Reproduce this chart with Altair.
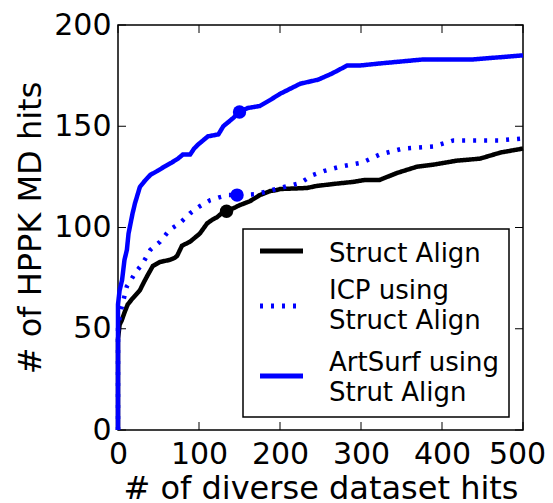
import altair as alt
import pandas as pd

# ---- data ----
series_names = ["Struct Align", "ICP using|Struct Align", "ArtSurf using|Strut Align"]

struct_x = [0, 0, 2, 4.5, 8, 12, 18, 27, 32, 36, 43, 52, 64, 70, 73, 79, 89, 95, 101, 110, 117, 122, 128, 134,
            145, 150, 163, 175, 188, 196, 200, 233, 245, 266, 290, 305, 323, 345, 369, 389, 418, 447, 472, 500]
struct_y = [0, 45, 52, 54, 58, 62, 65, 69, 73, 76, 81, 83, 84, 85, 86, 91, 93, 95, 97, 102, 104, 105, 107, 108,
            110, 111, 113, 116, 118, 118.5, 119, 119.5, 120.5, 121.5, 122.5, 123.5, 123.5, 127, 130, 131, 133, 134, 137, 139]

icp_x = [0, 0, 3, 6, 11, 16, 21, 30, 40, 52, 64, 76, 89, 101, 114, 126, 136, 147, 171, 200, 225, 241, 255,
         274, 301, 323, 352, 389, 406, 414, 440, 470, 500]
icp_y = [0, 50, 58, 63, 71, 74, 77.5, 82, 89, 93, 99, 102, 107, 110.5, 113.5, 115, 116, 116, 116.5, 119.5, 122,
         126, 128, 130, 132, 136, 139, 140, 142, 143, 143, 143, 144]

art_x = [0, 0, 2, 5, 8, 11, 13, 18, 21, 27, 33, 40, 49, 57, 66, 74, 80, 89, 94, 99, 105, 111, 124, 130, 142,
         150, 160, 175, 188, 200, 225, 247, 264, 283, 299, 323, 377, 438, 500]
art_y = [0, 62, 69, 74, 84, 89, 97, 107, 112, 120, 123, 126, 128, 130, 132, 134, 136, 136, 139, 141, 143, 145,
         146, 150, 154, 157, 159, 160, 163, 166, 171, 173, 176, 180, 180, 181, 183, 183, 185]

marker_series = ["Struct Align", "ICP using|Struct Align", "ArtSurf using|Strut Align"]
marker_x = [134, 147, 150]
marker_y = [108, 116, 157]

x_ticks = [0, 100, 200, 300, 400, 500]
y_ticks = [0, 50, 100, 150, 200]

rows = []
for name, xs, ys in zip(series_names, [struct_x, icp_x, art_x], [struct_y, icp_y, art_y]):
    for i, (a, b) in enumerate(zip(xs, ys)):
        rows.append({"series": name, "x": a, "y": b, "order": i})
lines_df = pd.DataFrame(rows)
markers_df = pd.DataFrame({"series": marker_series, "x": marker_x, "y": marker_y})
xt_df = pd.DataFrame({"x": x_ticks})
yt_df = pd.DataFrame({"y": y_ticks})
leg_df = pd.DataFrame({"series": series_names})

W, H = 405, 405
FONT = "DejaVu Sans"
xscale = alt.Scale(domain=[0, 500], nice=False, zero=False)
yscale = alt.Scale(domain=[0, 200], nice=False, zero=False)
X = alt.X("x:Q", scale=xscale, title="# of diverse dataset hits",
          axis=alt.Axis(values=x_ticks, format="d", labelFlush=False, labelOverlap=False,
                        labelOffset={"condition": {"test": "datum.value == 500", "value": -6}, "value": 0}))
Y = alt.Y("y:Q", scale=yscale, title="# of HPPK MD hits",
          axis=alt.Axis(values=y_ticks, format="d", labelFlush=False, labelOverlap=False))

color_scale = alt.Scale(domain=series_names, range=["#000000", "#0000ff", "#0000ff"])
dash_scale = alt.Scale(domain=series_names, range=[[1, 0], [3, 8], [1, 0]])

lines = alt.Chart(lines_df).mark_line(strokeWidth=4.5, strokeCap="butt").encode(
    x=X, y=Y,
    color=alt.Color("series:N", scale=color_scale, legend=None),
    strokeDash=alt.StrokeDash("series:N", scale=dash_scale, legend=None),
    order="order:Q",
    detail="series:N",
)

m_black = alt.Chart(markers_df).transform_filter(alt.datum.series == "Struct Align").mark_circle(
    size=180, opacity=1, color="black").encode(x=X, y=Y)
m_blue = alt.Chart(markers_df).transform_filter(alt.datum.series != "Struct Align").mark_circle(
    size=180, opacity=1, color="#0000ff").encode(x=X, y=Y)

tl = 8
tick_bottom = alt.Chart(xt_df).mark_rule(color="black", strokeWidth=1).encode(
    x=X, y=alt.value(H), y2=alt.value(H - tl))
tick_top = alt.Chart(xt_df).mark_rule(color="black", strokeWidth=1).encode(
    x=X, y=alt.value(0), y2=alt.value(tl))
tick_left = alt.Chart(yt_df).mark_rule(color="black", strokeWidth=1).encode(
    y=Y, x=alt.value(0), x2=alt.value(tl))
tick_right = alt.Chart(yt_df).mark_rule(color="black", strokeWidth=1).encode(
    y=Y, x=alt.value(W), x2=alt.value(W - tl))

# ---- legend (drawn as marks) ----
leg_box = alt.Chart(leg_df).transform_filter(alt.datum.series == series_names[0]).mark_rect(
    fill="white", stroke="black", strokeWidth=1.5).encode(
    x=alt.value(125), x2=alt.value(391), y=alt.value(204), y2=alt.value(392))

row_y = [226, 281, 351]
text_y = [229, 266, 338]
leg_layers = [leg_box]
for name, ry, ty in zip(series_names, row_y, text_y):
    sub = alt.Chart(leg_df).transform_filter(alt.datum.series == name)
    leg_layers.append(sub.mark_rule(strokeWidth=5, strokeCap="butt").encode(
        x=alt.value(142), x2=alt.value(185), y=alt.value(ry),
        color=alt.Color("series:N", scale=color_scale, legend=None),
        strokeDash=alt.StrokeDash("series:N", scale=dash_scale, legend=None)))
    leg_layers.append(sub.mark_text(align="left", baseline="middle", font=FONT, fontSize=26,
                                    lineBreak="|", lineHeight=30, color="black").encode(
        x=alt.value(211), y=alt.value(ty), text="series:N"))

chart = alt.layer(tick_bottom, tick_top, tick_left, tick_right, lines, m_black, m_blue, *leg_layers).properties(
    width=W, height=H,
    autosize=alt.AutoSizeParams(type="none"),
    padding={"left": 110, "top": 17, "right": 22, "bottom": 73},
).configure_view(
    stroke="black", strokeWidth=1.5
).configure_axis(
    domain=False, ticks=False, grid=False,
    labelFont=FONT, labelFontSize=30, labelColor="black",
    titleFont=FONT, titleFontSize=32, titleFontWeight="normal", titleColor="black",
).configure_axisX(
    labelPadding=9, titlePadding=4
).configure_axisY(
    labelPadding=7, titlePadding=6
)

chart.save("out.html", embed_options={"renderer": "svg", "actions": False})
